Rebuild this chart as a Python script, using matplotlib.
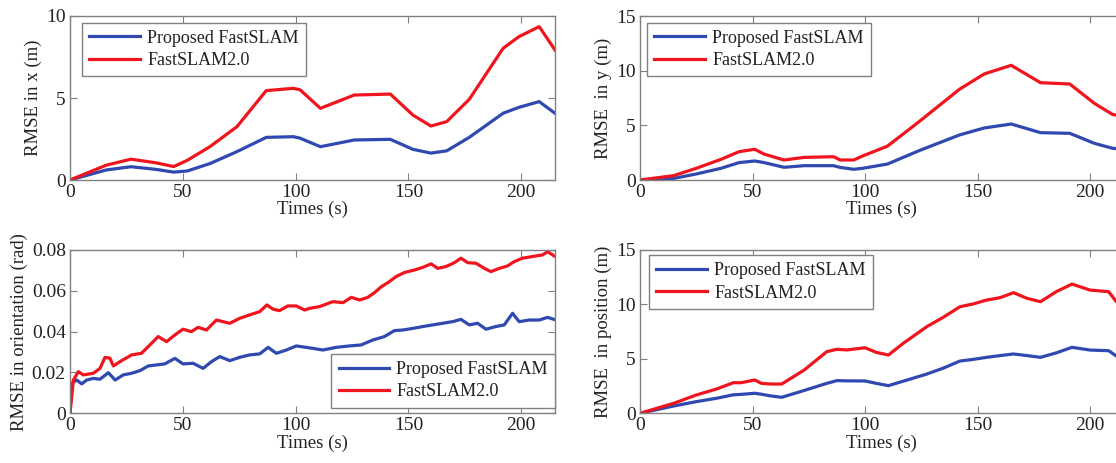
import matplotlib
matplotlib.use("Agg")
import matplotlib.pyplot as plt

# ---------------------------------------------------------------
# RMSE curves: proposed FastSLAM vs FastSLAM2.0
# ---------------------------------------------------------------
LABEL_NEW = "Proposed FastSLAM"
LABEL_OLD = "FastSLAM2.0"

# RMSE in x (m)
x_t = [0, 16, 27, 38, 46, 52, 62, 74, 87, 99, 102, 111, 126, 142, 152, 160, 167, 177, 192, 199, 208, 215]
x_new = [0, 0.61, 0.81, 0.65, 0.48, 0.55, 1.0, 1.73, 2.6, 2.64, 2.55, 2.03, 2.44, 2.48, 1.87, 1.64, 1.78, 2.6, 4.07, 4.43, 4.78, 4.07]
x_old = [0, 0.9, 1.27, 1.05, 0.82, 1.2, 2.03, 3.25, 5.45, 5.59, 5.5, 4.37, 5.18, 5.24, 3.96, 3.29, 3.56, 4.92, 8.03, 8.74, 9.35, 7.93]

# RMSE in y (m)
y_t = [0, 15, 25, 36, 44, 51, 55, 64, 73, 86, 89, 95, 99, 110, 124, 142, 153, 165, 178, 191, 202, 210, 215]
y_new = [0, 0.15, 0.55, 1.07, 1.59, 1.74, 1.6, 1.16, 1.31, 1.31, 1.15, 0.98, 1.07, 1.46, 2.68, 4.12, 4.76, 5.12, 4.33, 4.27, 3.35, 2.9, 2.8]
y_old = [0, 0.4, 1.07, 1.89, 2.59, 2.81, 2.38, 1.83, 2.07, 2.13, 1.83, 1.83, 2.2, 3.1, 5.33, 8.3, 9.7, 10.49, 8.9, 8.78, 7.0, 6.0, 5.8]

# RMSE in orientation (rad)
o_t_new = [0, 0.7, 3, 5.2, 7.4, 10.3, 13.3, 17, 20, 23.6, 27.3, 31, 34.7, 38.4, 42, 46.5, 50.1,
           54.6, 59, 62.7, 66.4, 70.8, 75.2, 79.6, 84.1, 87.8, 91.5, 95.9, 100.3, 104.7, 107.7,
           112.1, 118, 123.9, 129.1, 134.2, 139.4, 143.8, 147.5, 152, 156.4, 160.8, 165.2, 169.6,
           173.3, 177, 180.7, 184.4, 188.8, 192.5, 196.2, 199.1, 203.6, 208, 211.7, 214.6]
o_new = [0, 0.0147, 0.0163, 0.0144, 0.0163, 0.0171, 0.0167, 0.0199, 0.0163, 0.0188, 0.0196, 0.0209,
         0.0232, 0.0237, 0.0242, 0.0269, 0.0242, 0.0245, 0.022, 0.0253, 0.0278, 0.0258, 0.0274, 0.0286,
         0.0291, 0.0323, 0.0294, 0.031, 0.033, 0.0323, 0.0318, 0.031, 0.0323, 0.033, 0.0335, 0.0359,
         0.0376, 0.0405, 0.0408, 0.0416, 0.0425, 0.0433, 0.0441, 0.0449, 0.046, 0.0433, 0.0441, 0.0412,
         0.0425, 0.0433, 0.049, 0.0449, 0.0457, 0.0457, 0.047, 0.046]
o_t_old = [0, 1.5, 3.7, 5.9, 10.3, 13.3, 15.5, 17.7, 19.2, 22.9, 27.3, 31.7, 34.7, 39.1, 42.8, 46.5,
           50.1, 53.8, 56.8, 60.5, 64.9, 67.8, 70.8, 75.2, 79.6, 84.1, 87.3, 90, 92.9, 96.6, 100.3,
           104, 106.2, 110.7, 116.5, 121, 124.7, 128.4, 132, 135, 138, 140.9, 144.6, 148.3, 152.7,
           156.4, 160.1, 163, 166.7, 170.4, 173.3, 176.3, 180, 183.7, 186.6, 190.3, 194, 196.9,
           200.6, 205, 209.5, 211.7, 214.6]
o_old = [0, 0.0163, 0.0204, 0.0188, 0.0196, 0.022, 0.0274, 0.027, 0.0232, 0.0258, 0.0286, 0.0294,
         0.0327, 0.0376, 0.0351, 0.0384, 0.0412, 0.04, 0.0421, 0.0408, 0.0457, 0.0449, 0.0441, 0.0465,
         0.0482, 0.0498, 0.0531, 0.051, 0.0503, 0.0526, 0.0526, 0.0506, 0.0514, 0.0523, 0.0547, 0.0542,
         0.0568, 0.0555, 0.0568, 0.0591, 0.062, 0.064, 0.067, 0.069, 0.0702, 0.0715, 0.0732, 0.071,
         0.0719, 0.0738, 0.076, 0.0738, 0.0735, 0.071, 0.0694, 0.071, 0.0722, 0.0743, 0.076, 0.0768,
         0.0776, 0.0792, 0.0771]

# RMSE in position (m)
p_t = [0, 15, 25, 34, 41.5, 45, 51, 54, 58, 63, 73, 83, 87.5, 92, 100, 105, 110.4, 117, 127.4,
       134.8, 142.2, 148, 154, 160, 166, 172, 178, 185, 192, 200, 208.3, 211.7, 215]
p_new = [0, 0.67, 1.07, 1.38, 1.7, 1.74, 1.84, 1.75, 1.6, 1.47, 2.1, 2.75, 3.0, 2.98, 2.97, 2.75, 2.54,
         2.95, 3.6, 4.15, 4.8, 4.95, 5.14, 5.3, 5.45, 5.3, 5.14, 5.55, 6.06, 5.81, 5.75, 5.26, 5.2]
p_old = [0, 0.92, 1.68, 2.23, 2.81, 2.81, 3.06, 2.75, 2.69, 2.69, 3.98, 5.66, 5.88, 5.82, 6.02, 5.6, 5.35,
         6.43, 7.95, 8.82, 9.79, 10.04, 10.4, 10.62, 11.08, 10.56, 10.25, 11.17, 11.87, 11.32, 11.17,
         10.25, 10.0]

XTICKS = [0, 50, 100, 150, 200]
C_NEW = "#2f49b0"
C_OLD = "#f0141e"
EDGE = "#808080"
INK = "#222222"

plt.rcParams["font.family"] = ["Liberation Serif", "DejaVu Serif"]

fig = plt.figure(figsize=(11.16, 4.63), dpi=100)

W, H = 1116.0, 463.0


def add_axes(left_px, top_px, w_px, h_px):
    return fig.add_axes([left_px / W, 1 - (top_px + h_px) / H, w_px / W, h_px / H])


def style(ax, ylabel, yticks, yticklabels, ymax):
    ax.set_xlim(0, 215)
    ax.set_ylim(0, ymax)
    ax.set_xticks(XTICKS)
    ax.set_yticks(yticks)
    ax.set_yticklabels(yticklabels)
    ax.tick_params(direction="in", top=True, right=True, length=5, width=0.8,
                   color=EDGE, labelcolor=INK, labelsize=14, pad=3)
    for s in ax.spines.values():
        s.set_color(EDGE)
        s.set_linewidth(1.0)
    ax.set_xlabel("Times (s)", fontsize=13.5, color=INK, labelpad=0)
    ax.set_ylabel(ylabel, fontsize=13.5, color=INK, labelpad=3)


def legend(ax, **kw):
    lg = ax.legend(fancybox=False, framealpha=1, edgecolor=EDGE, fontsize=13,
                   handlelength=2.8, handletextpad=0.4, borderpad=0.4,
                   labelspacing=0.3, borderaxespad=0, **kw)
    lg.get_frame().set_linewidth(1.0)
    for t in lg.get_texts():
        t.set_color(INK)


LW = 2.3

# top left: x
ax1 = add_axes(70, 16, 485, 164)
ax1.plot(x_t, x_new, color=C_NEW, lw=LW, label=LABEL_NEW)
ax1.plot(x_t, x_old, color=C_OLD, lw=LW, label=LABEL_OLD)
style(ax1, "RMSE in x (m)", [0, 5, 10], ["0", "5", "10"], 10)
legend(ax1, loc="upper left", bbox_to_anchor=(0.025, 0.96))

# top right: y
ax2 = add_axes(640, 16, 483.75, 164)
ax2.plot(y_t, y_new, color=C_NEW, lw=LW, label=LABEL_NEW)
ax2.plot(y_t, y_old, color=C_OLD, lw=LW, label=LABEL_OLD)
style(ax2, "RMSE  in y (m)", [0, 5, 10, 15], ["0", "5", "10", "15"], 15)
legend(ax2, loc="upper left", bbox_to_anchor=(0.015, 0.96))

# bottom left: orientation
ax3 = add_axes(70, 250, 485, 163.3)
ax3.plot(o_t_new, o_new, color=C_NEW, lw=LW, label=LABEL_NEW)
ax3.plot(o_t_old, o_old, color=C_OLD, lw=LW, label=LABEL_OLD)
style(ax3, "RMSE in orientation (rad)", [0, 0.02, 0.04, 0.06, 0.08],
      ["0", "0.02", "0.04", "0.06", "0.08"], 0.08)
legend(ax3, loc="lower right", bbox_to_anchor=(1.0, 0.035))

# bottom right: position
ax4 = add_axes(640, 250, 483.75, 163.3)
ax4.plot(p_t, p_new, color=C_NEW, lw=LW, label=LABEL_NEW)
ax4.plot(p_t, p_old, color=C_OLD, lw=LW, label=LABEL_OLD)
style(ax4, "RMSE  in position (m)", [0, 5, 10, 15], ["0", "5", "10", "15"], 15)
legend(ax4, loc="upper left", bbox_to_anchor=(0.019, 0.97))

fig.savefig("out.png", dpi=100)
